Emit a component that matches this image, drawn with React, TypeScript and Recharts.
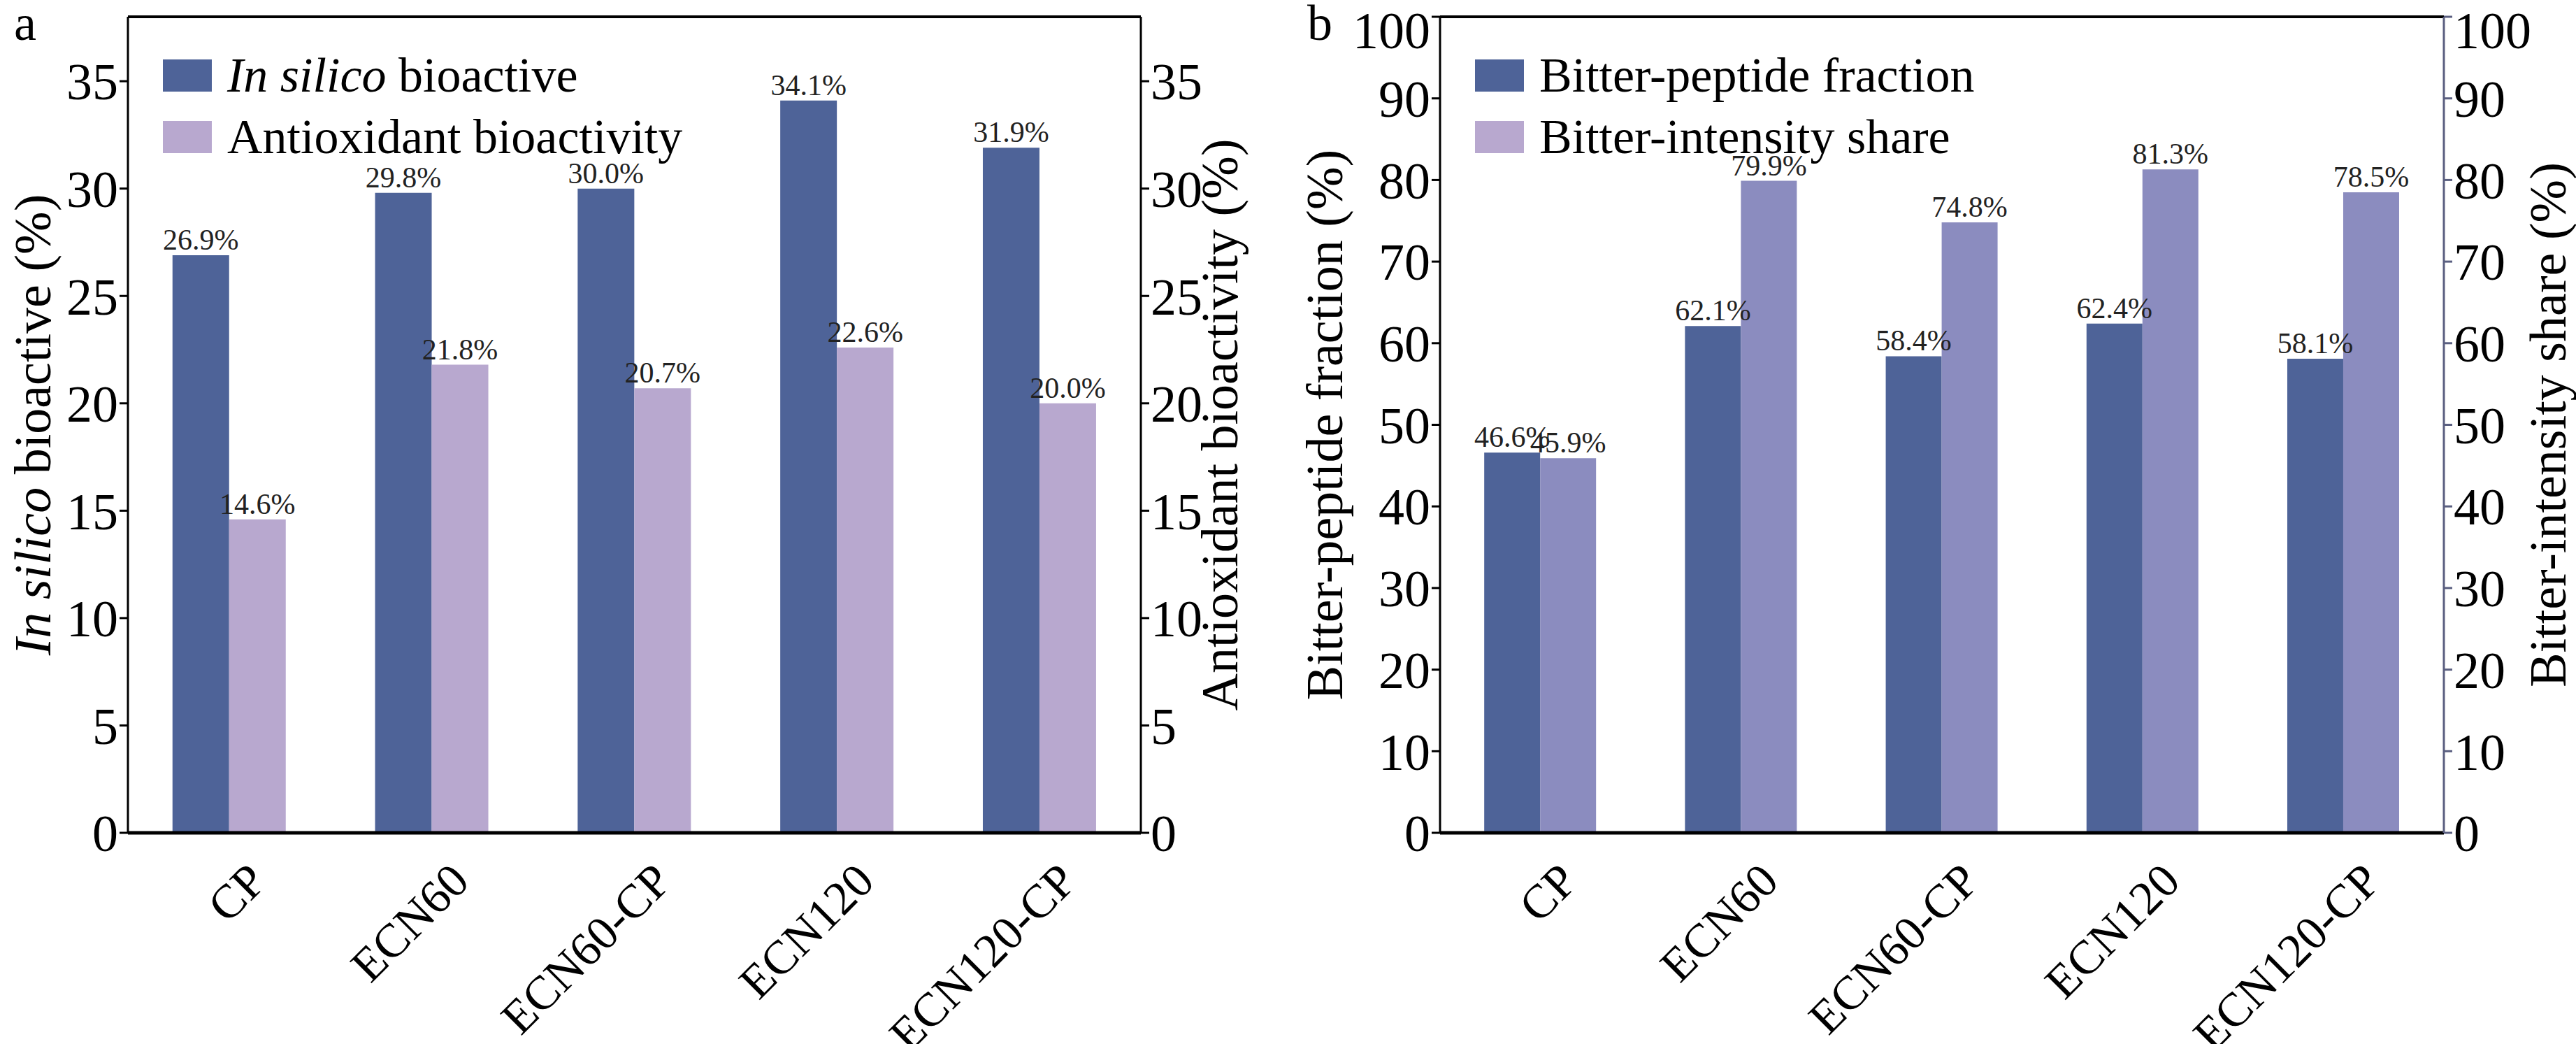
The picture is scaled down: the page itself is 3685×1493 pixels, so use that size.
import React from "react";
import { ComposedChart, Bar, XAxis, YAxis, LabelList, ReferenceLine } from "recharts";

const categories = ["CP", "ECN60", "ECN60-CP", "ECN120", "ECN120-CP"];
const inSilico = [26.9, 29.8, 30.0, 34.1, 31.9];
const antioxidant = [14.6, 21.8, 20.7, 22.6, 20.0];
const bitterFraction = [46.6, 62.1, 58.4, 62.4, 58.1];
const bitterShare = [45.9, 79.9, 74.8, 81.3, 78.5];
const ticksA = [0, 5, 10, 15, 20, 25, 30, 35];
const ticksB = [0, 10, 20, 30, 40, 50, 60, 70, 80, 90, 100];

const serif = "'Liberation Serif', 'DejaVu Serif', serif";
const DARK = "#4e6398";
const LAV_A = "#b8a8cf";
const LAV_B = "#8b8cbf";

const dataA = categories.map((c, i) => ({ name: c, s1: inSilico[i], s2: antioxidant[i] }));
const dataB = categories.map((c, i) => ({ name: c, s1: bitterFraction[i], s2: bitterShare[i] }));

function CatTick({ x, y, payload }: any) {
  return (
    <text
      x={x + 22}
      y={y + 30}
      transform={`rotate(-45 ${x + 22} ${y + 30})`}
      textAnchor="end"
      dominantBaseline="hanging"
      fontFamily={serif}
      fontSize={68}
      fill="#000"
    >
      {payload.value}
    </text>
  );
}

const pct = (v: any) => `${Number(v).toFixed(1)}%`;

function LegendBox({ items }: { items: { color: string; label: React.ReactNode }[] }) {
  return (
    <div style={{ fontFamily: serif, fontSize: 70, lineHeight: "88px" }}>
      {items.map((it, i) => (
        <div key={i} style={{ display: "flex", alignItems: "center" }}>
          <span style={{ width: 70, height: 46, background: it.color, marginRight: 22, display: "inline-block" }} />
          <span>{it.label}</span>
        </div>
      ))}
    </div>
  );
}

function Panel({
  data, max, ticks, c2, leftLabel, rightLabel, legend, margin, width, letter, rightAxisColor, lx, rx,
}: any) {
  return (
    <div style={{ position: "relative", width, height: 1493 }}>
      <ComposedChart width={width} height={1493} data={data} margin={margin} barCategoryGap="22%" barGap={0}>
        <XAxis
          dataKey="name"
          tick={<CatTick />}
          tickLine={false}
          axisLine={{ stroke: "#000", strokeWidth: 5 }}
          height={250}
          interval={0}
        />
        <YAxis
          yAxisId="l"
          domain={[0, max]}
          ticks={ticks}
          allowDataOverflow
          width={100}
          tick={{ fontFamily: serif, fontSize: 74, fill: "#000" }}
          tickSize={12}
          axisLine={{ stroke: "#000", strokeWidth: 3 }}
          tickLine={{ stroke: "#000", strokeWidth: 3 }}
          label={({ viewBox }: any) => {
            const cy = viewBox.y + viewBox.height / 2;
            return (
              <text x={lx} y={cy} transform={`rotate(-90 ${lx} ${cy})`} textAnchor="middle" dominantBaseline="central" fontFamily={serif} fontSize={74} fill="#000">
                {leftLabel}
              </text>
            );
          }}
        />
        <YAxis
          yAxisId="r"
          orientation="right"
          domain={[0, max]}
          ticks={ticks}
          allowDataOverflow
          width={100}
          tick={{ fontFamily: serif, fontSize: 74, fill: "#000" }}
          tickSize={12}
          axisLine={{ stroke: rightAxisColor, strokeWidth: 3 }}
          tickLine={{ stroke: rightAxisColor, strokeWidth: 3 }}
          label={({ viewBox }: any) => {
            const cy = viewBox.y + viewBox.height / 2;
            return (
              <text x={rx} y={cy} transform={`rotate(-90 ${rx} ${cy})`} textAnchor="middle" dominantBaseline="central" fontFamily={serif} fontSize={74} fill="#000">
                {rightLabel}
              </text>
            );
          }}
        />
        <ReferenceLine yAxisId="l" y={max} stroke="#000" strokeWidth={4} ifOverflow="extendDomain" />
        <Bar yAxisId="l" dataKey="s1" fill={DARK} isAnimationActive={false}>
          <LabelList dataKey="s1" position="top" formatter={pct} fontFamily={serif} fontSize={42} fill="#222" offset={8} />
        </Bar>
        <Bar yAxisId="r" dataKey="s2" fill={c2} isAnimationActive={false}>
          <LabelList dataKey="s2" position="top" formatter={pct} fontFamily={serif} fontSize={42} fill="#222" offset={8} />
        </Bar>
      </ComposedChart>
      <div style={{ position: "absolute", left: margin.left + 150, top: margin.top + 40 }}>
        <LegendBox items={legend} />
      </div>
      <div style={{ position: "absolute", left: letter.x, top: letter.y, fontFamily: serif, fontSize: 72 }}>{letter.t}</div>
    </div>
  );
}

export default function App() {
  return (
    <div style={{ position: "absolute", left: 0, top: 0, width: 3685, height: 1493, background: "#fff", display: "flex" }}>
      <Panel
        width={1840}
        data={dataA}
        max={38}
        ticks={ticksA}
        c2={LAV_A}
        rightAxisColor="#000"
        margin={{ top: 24, right: 108, left: 83, bottom: 52 }}
        lx={47}
        rx={1745}
        leftLabel={<><tspan fontStyle="italic">In silico</tspan> bioactive (%)</>}
        rightLabel="Antioxidant bioactivity (%)"
        legend={[
          { color: DARK, label: <><i>In silico</i> bioactive</> },
          { color: LAV_A, label: "Antioxidant bioactivity" },
        ]}
        letter={{ t: "a", x: 20, y: -8 }}
      />
      <Panel
        width={1845}
        data={dataB}
        max={100}
        ticks={ticksB}
        c2={LAV_B}
        rightAxisColor="#5a5f80"
        margin={{ top: 24, right: 89, left: 120, bottom: 52 }}
        lx={55}
        rx={1805}
        leftLabel="Bitter-peptide fraction (%)"
        rightLabel="Bitter-intensity share (%)"
        legend={[
          { color: DARK, label: "Bitter-peptide fraction" },
          { color: LAV_A, label: "Bitter-intensity share" },
        ]}
        letter={{ t: "b", x: 30, y: -8 }}
      />
    </div>
  );
}
